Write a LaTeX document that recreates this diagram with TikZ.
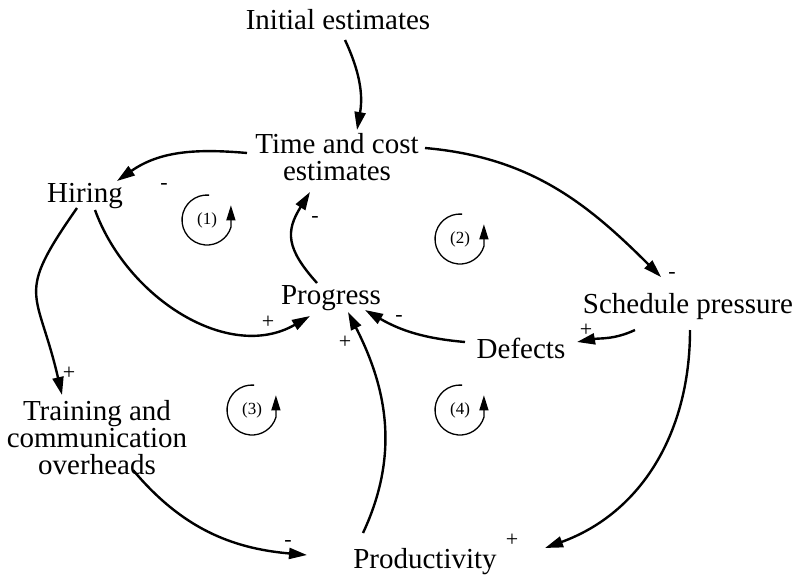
\documentclass[tikz,border=0pt]{standalone}
\usepackage{fontspec}
\setmainfont{Liberation Serif}
\usetikzlibrary{arrows.meta}

\begin{document}
\begin{tikzpicture}[x=1pt, y=1pt, >={Triangle[length=18pt,width=11pt]}, line width=2.4pt,
  var/.style={align=center, inner sep=3pt, font=\fontsize{29}{27}\selectfont},
  sign/.style={inner sep=0pt, font=\fontsize{22}{22}\selectfont},
  loopnum/.style={inner sep=0pt, font=\fontsize{17}{17}\selectfont},
  loopcirc/.style={line width=1.3pt, -{Triangle[length=15pt,width=9pt]}}]
  \useasboundingbox (0,0) rectangle (799,-586);

  \node[var] (init)     at (338,-20)  {Initial estimates};
  \node[var] (tce)      at (337,-157) {Time and cost\\estimates};
  \node[var] (hiring)   at (85,-196)  {Hiring};
  \node[var] (progress) at (331,-298) {Progress};
  \node[var] (sched)    at (688,-307) {Schedule pressure};
  \node[var] (defects)  at (521,-348) {Defects};
  \node[var] (train)    at (97,-438)  {Training and\\communication\\overheads};
  \node[var] (prod)     at (425,-562) {Productivity};

  \path[->]
    ([shift={(7,-20)}]init.center)      edge [out=-65, in=80]              ([shift={(20,27)}]tce.center)
    ([shift={(-90,4)}]tce.center)       edge [out=175, in=35]              ([shift={(32,15)}]hiring.center)
    ([shift={(88,9)}]tce.center)        edge [out=-5, in=135]              ([shift={(-27,30)}]sched.center)
    ([shift={(10,-14)}]hiring.center)   edge [out=-70, in=210]             ([shift={(-21,-18)}]progress.center)
    ([shift={(-8,-12)}]hiring.center)   edge [out=-125, in=103, looseness=1.5] ([shift={(-35,43)}]train.center)
    ([shift={(-14,15)}]progress.center) edge [out=132, in=-122, looseness=1.3] ([shift={(-27,-35)}]tce.center)
    ([shift={(-56,6)}]defects.center)   edge [out=175, in=-30]             ([shift={(34,-12)}]progress.center)
    ([shift={(-53,-23)}]sched.center)   edge [out=205, in=10]              ([shift={(56,6)}]defects.center)
    ([shift={(-62,29)}]prod.center)     edge [out=65, in=-63]              ([shift={(17,-14)}]progress.center)
    ([shift={(2,-23)}]sched.center)     edge [out=-90, in=20]              ([shift={(120,14)}]prod.center)
    ([shift={(36,-32)}]train.center)    edge [out=-50, in=175]             ([shift={(-118,7)}]prod.center);

  % signs
  \node[sign] (s1)  at (164,-186) {-};
  \node[sign] (s2)  at (672,-275) {-};
  \node[sign] (s3)  at (268,-322) {+};
  \node[sign] (s4)  at (69,-373)  {+};
  \node[sign] (s5)  at (315,-219) {-};
  \node[sign] (s6)  at (399,-318) {-};
  \node[sign] (s7)  at (586,-330) {+};
  \node[sign] (s8)  at (345,-342) {+};
  \node[sign] (s9)  at (512,-540) {+};
  \node[sign] (s10) at (288,-543) {-};

  % loops
  \node[loopnum] (l1) at (207,-220) {(1)};
  \node[loopnum] (l2) at (460,-239) {(2)};
  \node[loopnum] (l3) at (252,-410) {(3)};
  \node[loopnum] (l4) at (460,-410) {(4)};
  \foreach \l in {l1,l2,l3,l4}
    \draw[loopcirc] (\l.center) ++(85:25) arc[start angle=85, end angle=343, radius=25] -- ++(0,22);
\end{tikzpicture}
\end{document}
